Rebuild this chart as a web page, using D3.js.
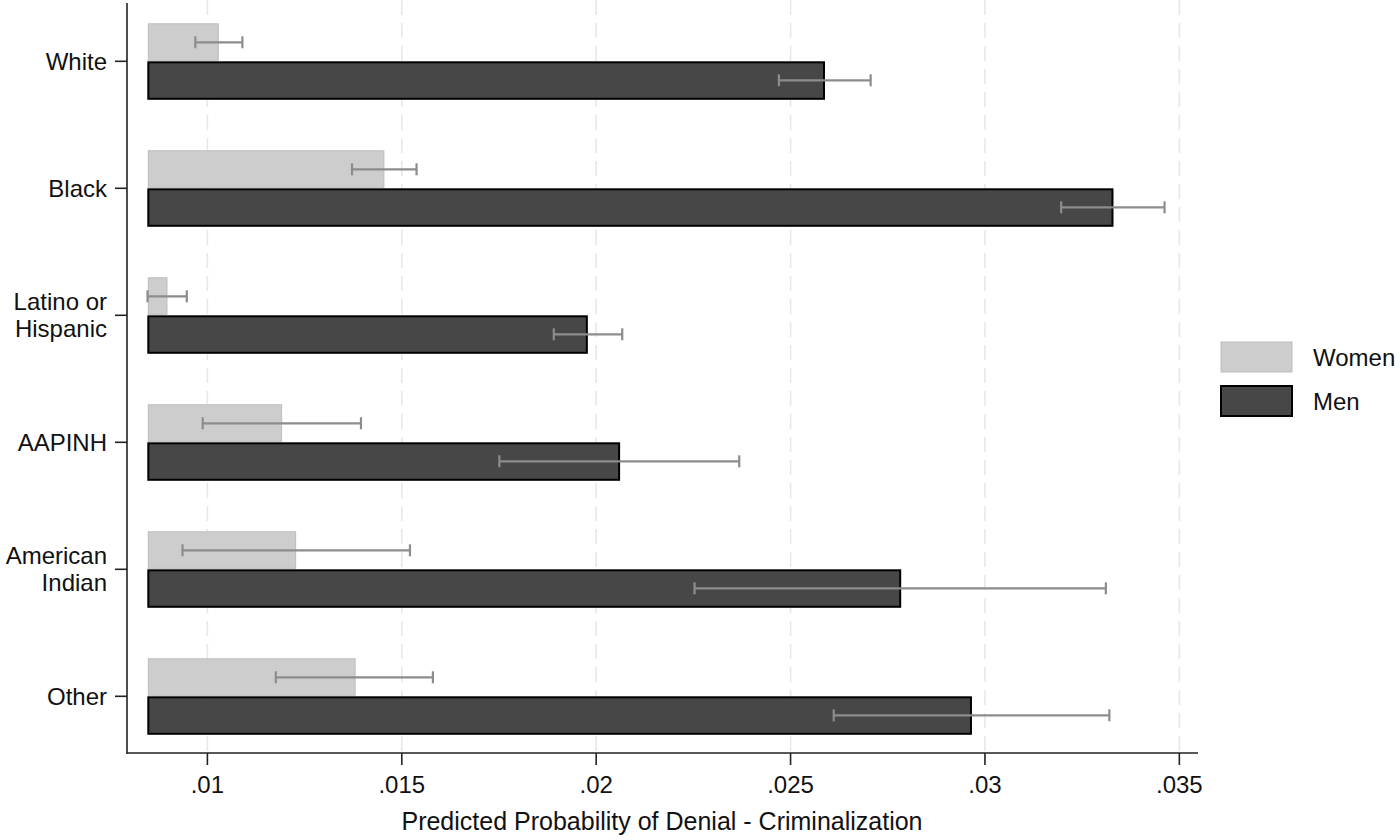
<!DOCTYPE html>
<html>
<head>
<meta charset="utf-8">
<script src="https://cdn.jsdelivr.net/npm/d3@7"></script>
<style>
  body { margin: 0; background: #fff; }
  text { font-family: "Liberation Sans", Arial, sans-serif; fill: #111; }
</style>
</head>
<body>
<svg width="1400" height="840"></svg>
<script>
// data
let categories = ["White", "Black", "Latino or Hispanic", "AAPINH", "American Indian", "Other"];
let catLines = [["White"], ["Black"], ["Latino or", "Hispanic"], ["AAPINH"], ["American", "Indian"], ["Other"]];
let women = [0.01028, 0.01454, 0.00896, 0.01191, 0.01227, 0.01380];
let womenLo = [0.00969, 0.01372, 0.00846, 0.00988, 0.00936, 0.01176];
let womenHi = [0.01090, 0.01538, 0.00947, 0.01395, 0.01521, 0.01580];
let men = [0.02586, 0.03328, 0.01976, 0.02059, 0.02782, 0.02964];
let menLo = [0.02470, 0.03196, 0.01891, 0.01751, 0.02253, 0.02611];
let menHi = [0.02706, 0.03462, 0.02067, 0.02368, 0.03311, 0.03320];
let xTicks = [0.01, 0.015, 0.02, 0.025, 0.03, 0.035];
let xTickLabels = [".01", ".015", ".02", ".025", ".03", ".035"];
let barBase = 0.00848;

let svg = d3.select('svg');

let x = d3.scaleLinear().domain([0.00795, 0.03548]).range([127.7, 1198]);
let y = d3.scalePoint().domain(categories).range([61.3, 696.3]);
let barH = 36.5;

// dashed gridlines
svg.append('g').selectAll('line')
   .data(xTicks).enter().append('line')
   .attr('x1', d => x(d)).attr('x2', d => x(d))
   .attr('y1', 0).attr('y2', 752)
   .attr('stroke', '#e8e8e8').attr('stroke-width', 1.6)
   .attr('stroke-dasharray', '15,8');

let rows = categories.map((c, i) => ({
    cat: c, w: women[i], wLo: womenLo[i], wHi: womenHi[i],
    m: men[i], mLo: menLo[i], mHi: menHi[i]
}));

// women bars
svg.append('g').selectAll('rect')
   .data(rows).enter().append('rect')
   .attr('x', x(barBase))
   .attr('y', d => y(d.cat) - barH - 1)
   .attr('width', d => x(d.w) - x(barBase))
   .attr('height', barH)
   .attr('fill', '#cdcdcd')
   .attr('stroke', '#bdbdbd')
   .attr('stroke-width', 1);

// men bars
svg.append('g').selectAll('rect')
   .data(rows).enter().append('rect')
   .attr('x', x(barBase))
   .attr('y', d => y(d.cat) + 1)
   .attr('width', d => x(d.m) - x(barBase))
   .attr('height', barH)
   .attr('fill', '#474747')
   .attr('stroke', '#000')
   .attr('stroke-width', 2);

// error bars
function errBars(lo, hi, off) {
    let g = svg.append('g')
               .attr('stroke', '#8c8c8c')
               .attr('stroke-width', 2.2);
    rows.forEach(d => {
        let yy = y(d.cat) + off;
        g.append('line').attr('x1', x(d[lo])).attr('x2', x(d[hi])).attr('y1', yy).attr('y2', yy);
        g.append('line').attr('x1', x(d[lo])).attr('x2', x(d[lo])).attr('y1', yy - 6).attr('y2', yy + 6);
        g.append('line').attr('x1', x(d[hi])).attr('x2', x(d[hi])).attr('y1', yy - 6).attr('y2', yy + 6);
    });
}
errBars('wLo', 'wHi', -19);
errBars('mLo', 'mHi', 19);

// y axis
svg.append('line')
   .attr('x1', 127).attr('x2', 127).attr('y1', 3).attr('y2', 754)
   .attr('stroke', '#222').attr('stroke-width', 1.6);
svg.append('g').selectAll('line')
   .data(categories).enter().append('line')
   .attr('x1', 115).attr('x2', 127)
   .attr('y1', d => y(d)).attr('y2', d => y(d))
   .attr('stroke', '#222').attr('stroke-width', 1.6);
let yLab = svg.append('g').selectAll('text')
   .data(categories).enter().append('text')
   .attr('x', 107)
   .attr('y', d => y(d))
   .attr('text-anchor', 'end')
   .attr('font-size', 24);
yLab.each(function(d, i) {
    let lines = catLines[i];
    let t = d3.select(this);
    lines.forEach((l, j) => {
        t.append('tspan')
         .attr('x', 107)
         .attr('y', y(d) + 8.5 + (j - (lines.length - 1) / 2) * 27)
         .text(l);
    });
});

// x axis
svg.append('line')
   .attr('x1', 127).attr('x2', 1198).attr('y1', 753).attr('y2', 753)
   .attr('stroke', '#222').attr('stroke-width', 1.6);
svg.append('g').selectAll('line')
   .data(xTicks).enter().append('line')
   .attr('x1', d => x(d)).attr('x2', d => x(d))
   .attr('y1', 753).attr('y2', 765)
   .attr('stroke', '#222').attr('stroke-width', 1.6);
svg.append('g').selectAll('text')
   .data(xTicks).enter().append('text')
   .attr('x', d => x(d))
   .attr('y', 793)
   .attr('text-anchor', 'middle')
   .attr('font-size', 24)
   .text((d, i) => xTickLabels[i]);

svg.append('text')
   .attr('x', 662).attr('y', 830)
   .attr('text-anchor', 'middle')
   .attr('font-size', 25)
   .text('Predicted Probability of Denial - Criminalization');

// legend
let legend = [
    {label: 'Women', fill: '#cdcdcd', stroke: '#bdbdbd', sw: 1, y: 342},
    {label: 'Men', fill: '#474747', stroke: '#000', sw: 2, y: 386}
];
let lg = svg.append('g').selectAll('g')
   .data(legend).enter().append('g');
lg.append('rect')
  .attr('x', 1221).attr('y', d => d.y)
  .attr('width', 71).attr('height', 30)
  .attr('fill', d => d.fill).attr('stroke', d => d.stroke)
  .attr('stroke-width', d => d.sw);
lg.append('text')
  .attr('x', 1313).attr('y', d => d.y + 23.5)
  .attr('font-size', 24)
  .text(d => d.label);
</script>
</body>
</html>
